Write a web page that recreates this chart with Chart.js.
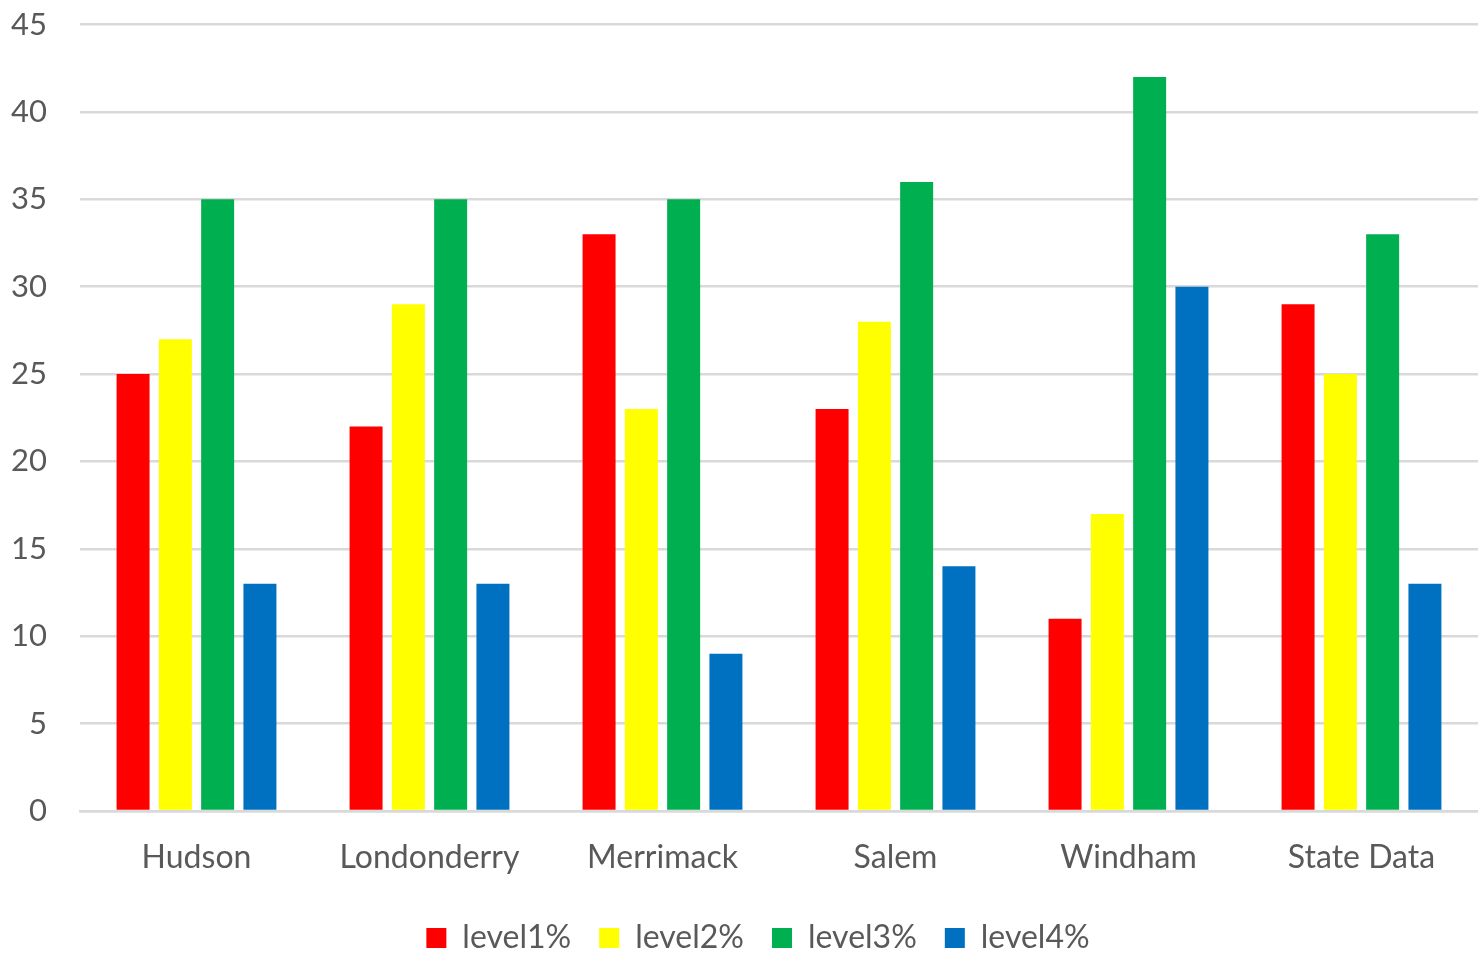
<!DOCTYPE html>
<html>
<head>
<meta charset="utf-8">
<script src="https://cdn.jsdelivr.net/npm/chart.js@4"></script>
<style>
  html, body { margin: 0; padding: 0; background: #fff; }
  #wrap { width: 1478px; height: 955px; position: relative; }
</style>
</head>
<body>
<div id="wrap"><canvas id="chart"></canvas></div>
<script>
// categorie e serie
var towns = ['Hudson', 'Londonderry', 'Merrimack', 'Salem', 'Windham', 'State Data'];
var level1 = [25, 22, 33, 23, 11, 29];
var level2 = [27, 29, 23, 28, 17, 25];
var level3 = [35, 35, 35, 36, 42, 33];
var level4 = [13, 13, 9, 14, 30, 13];
var seriesNames = ['level1%', 'level2%', 'level3%', 'level4%'];
var yTicks = [0, 5, 10, 15, 20, 25, 30, 35, 40, 45];

var colors = ['#ff0000', '#ffff00', '#00b050', '#0070c0'];
var textColor = '#595959';
var fontFamily = 'Lato, "Open Sans", sans-serif';

function makeDataset(name, values, color) {
  return {
    label: name,
    data: values,
    backgroundColor: color,
    borderWidth: 0,
    barPercentage: 0.78,
    categoryPercentage: 0.726
  };
}

var datasets = [
  makeDataset(seriesNames[0], level1, colors[0]),
  makeDataset(seriesNames[1], level2, colors[1]),
  makeDataset(seriesNames[2], level3, colors[2]),
  makeDataset(seriesNames[3], level4, colors[3])
];

// sposto la legenda come in Excel (un po' a destra e in basso)
var legendShift = {
  id: 'legendShift',
  afterLayout: function (chart) {
    var lg = chart.legend;
    if (!lg) return;
    lg.left += 19;
    lg.right += 19;
    lg.top += 9;
    lg.bottom += 9;
  }
};

var ctx = document.getElementById('chart').getContext('2d');

var chart = new Chart(ctx, {
  type: 'bar',
  data: {
    labels: towns,
    datasets: datasets
  },
  plugins: [legendShift],
  options: {
    responsive: true,
    maintainAspectRatio: false,
    animation: false,
    layout: {
      padding: 0
    },
    plugins: {
      tooltip: { enabled: false },
      legend: {
        position: 'bottom',
        labels: {
          color: textColor,
          font: { family: fontFamily, size: 32 },
          boxWidth: 20,
          boxHeight: 20,
          padding: 28
        }
      }
    },
    scales: {
      x: {
        grid: { display: false, drawTicks: false },
        border: { display: true, color: '#d9d9d9', width: 2.5 },
        afterFit: function (scale) {
          scale.height = 74;
        },
        ticks: {
          color: textColor,
          font: { family: fontFamily, size: 32 },
          padding: 27
        }
      },
      y: {
        min: 0,
        max: 45,
        afterBuildTicks: function (scale) {
          scale.ticks = yTicks.map(function (v) { return { value: v }; });
        },
        afterFit: function (scale) {
          scale.width = 80;
        },
        grid: {
          color: '#d9d9d9',
          lineWidth: 2.5,
          drawTicks: true,
          tickLength: 27,
          tickColor: 'rgba(0,0,0,0)'
        },
        border: { display: false },
        ticks: {
          color: textColor,
          font: { family: fontFamily, size: 31 },
          padding: 6
        }
      }
    }
  }
});
</script>
</body>
</html>
